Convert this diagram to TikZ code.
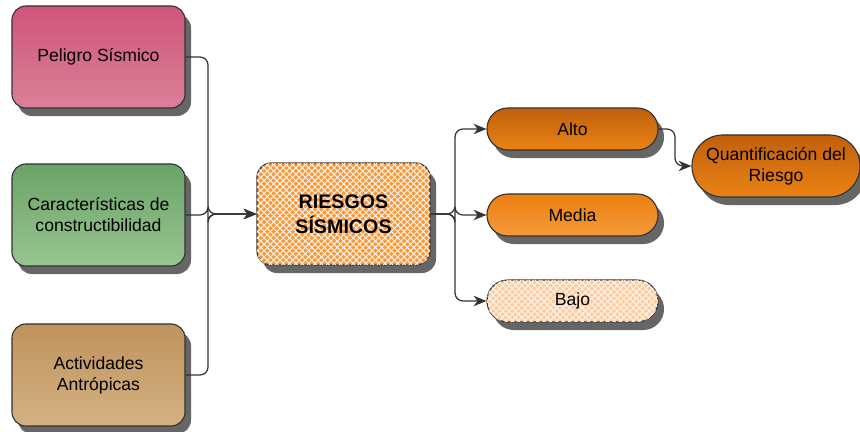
\documentclass[tikz,border=0pt]{standalone}
\usepackage{fontspec}
\setmainfont{Liberation Sans}
\usetikzlibrary{arrows.meta,shadows,patterns.meta}

\definecolor{rosaA}{HTML}{CF557A}
\definecolor{rosaB}{HTML}{DB8098}
\definecolor{verdeA}{HTML}{6AA366}
\definecolor{verdeB}{HTML}{98C591}
\definecolor{cafeA}{HTML}{BE935C}
\definecolor{cafeB}{HTML}{D4B183}
\definecolor{naranja}{HTML}{F7993F}
\definecolor{altoA}{HTML}{C0600C}
\definecolor{altoB}{HTML}{EA8214}
\definecolor{mediaA}{HTML}{EC7F10}
\definecolor{mediaB}{HTML}{F39A3A}
\definecolor{bajo}{HTML}{FCCDA2}
\definecolor{borde}{HTML}{333333}

\tikzset{
    sombra/.style={drop shadow={shadow xshift=0.15cm, shadow yshift=-0.2cm, fill=black!60, opacity=1}},
    trama/.style={postaction={pattern={Lines[angle=45, distance=3.2pt, line width=0.7pt]}, pattern color=white!92!orange},
        postaction={pattern={Lines[angle=-45, distance=3.2pt, line width=0.7pt]}, pattern color=white!92!orange}},
    caja/.style={draw=borde, line width=0.8pt, rounded corners=0.35cm, sombra,
        minimum width=4.325cm, minimum height=2.55cm, align=center,
        font=\fontsize{12.5}{15}\selectfont},
    pildora/.style={draw=borde, line width=0.8pt, rounded corners=0.52cm, sombra,
        minimum width=4.275cm, minimum height=1.05cm, align=center,
        font=\fontsize{12.5}{15}\selectfont},
    flecha/.style={draw=borde, line width=0.9pt, rounded corners=0.2cm,
        -{Stealth[length=0.32cm, width=0.26cm, inset=0.1cm]}}
}

\begin{document}
\begin{tikzpicture}[x=0.025cm, y=-0.025cm]
\useasboundingbox (0,0) rectangle (860,432);

% entradas
\node[caja, top color=rosaA, bottom color=rosaB] (peligro) at (98.5,57) {Peligro Sísmico};
\node[caja, top color=verdeA, bottom color=verdeB] (caract) at (98.5,215) {Características de\\constructibilidad};
\node[caja, top color=cafeA, bottom color=cafeB] (activ) at (98.5,375) {Actividades\\Antrópicas};

% centro
\node[caja, fill=naranja, trama,
    font=\fontsize{14}{18}\selectfont\bfseries] (riesgos) at (343.5,214) {RIESGOS\\SÍSMICOS};

% salidas
\node[pildora, top color=altoA, bottom color=altoB] (alto) at (572.5,129) {Alto};
\node[pildora, top color=mediaA, bottom color=mediaB] (media) at (572.5,215) {Media};
\node[pildora, fill=bajo, trama] (bajo) at (572.5,301) {Bajo};
\node[pildora, top color=altoA, bottom color=altoB, minimum width=4.2cm,
    minimum height=1.55cm, rounded corners=0.77cm] (quant) at (776,166) {Quantificación del\\Riesgo};

% conectores
\foreach \n in {peligro,caract,activ}
{
    \draw[flecha] (\n.east) -- (208,0 |- \n.east) |- (riesgos.west);
}
\foreach \n in {alto,media,bajo}
{
    \draw[flecha] (riesgos.east) -- (455,214) |- (\n.west);
}
\draw[flecha] (alto.east) -- (675,129) |- (quant.west);
\end{tikzpicture}
\end{document}
